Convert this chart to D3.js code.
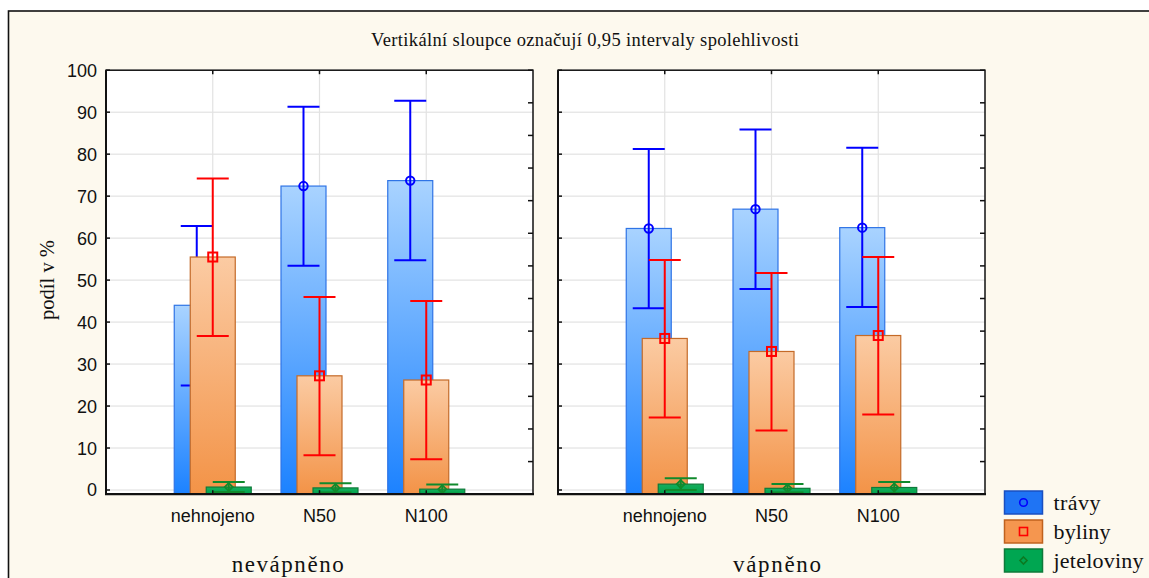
<!DOCTYPE html>
<html><head><meta charset="utf-8">
<script src="https://cdn.jsdelivr.net/npm/d3@7"></script>
<style>
html,body{margin:0;padding:0;background:#fff;}
svg{display:block;}
</style></head>
<body>
<script>
// ---- data ----
const groups = ["nevápněno", "vápněno"];
const categories = ["nehnojeno", "N50", "N100"];
const seriesNames = ["trávy", "byliny", "jeteloviny"];
const yTicks = [0, 10, 20, 30, 40, 50, 60, 70, 80, 90, 100];
const title = "Vertikální sloupce označují 0,95 intervaly spolehlivosti";
const yLabel = "podíl v %";
// order: nevápněno (nehnojeno, N50, N100), vápněno (nehnojeno, N50, N100)
const travyMean = [44.0, 72.4, 73.7, 62.3, 66.9, 62.5];
const travyLow  = [24.9, 53.4, 54.7, 43.3, 47.9, 43.6];
const travyHigh = [62.9, 91.3, 92.7, 81.2, 85.9, 81.5];
const bylinyMean = [55.5, 27.2, 26.2, 36.1, 33.0, 36.8];
const bylinyLow  = [36.7, 8.3, 7.3, 17.3, 14.2, 18.0];
const bylinyHigh = [74.2, 46.0, 45.0, 54.8, 51.7, 55.5];
const jetelMean = [0.7, 0.5, 0.2, 1.4, 0.4, 0.6];
const jetelLow  = [-0.5, -0.6, -0.9, 0.0, -0.6, -0.7];
const jetelHigh = [1.9, 1.6, 1.3, 2.8, 1.4, 1.9];

const seriesData = [
  {name: seriesNames[0], mean: travyMean, low: travyLow, high: travyHigh},
  {name: seriesNames[1], mean: bylinyMean, low: bylinyLow, high: bylinyHigh},
  {name: seriesNames[2], mean: jetelMean, low: jetelLow, high: jetelHigh}
];

// ---- styles ----
const styles = [
  {top: "#A9D3FF", bot: "#1C82FF", stroke: "#2F74E6", err: "#0000FF", legFill: "#1F74F4", legStroke: "#1A4FC0", marker: "circle"},
  {top: "#FBCBA3", bot: "#F39347", stroke: "#C46A28", err: "#FF0000", legFill: "#F5964F", legStroke: "#C0621E", marker: "square"},
  {top: "#14AE5C", bot: "#00A24C", stroke: "#0E7A3A", err: "#108A2C", legFill: "#00A651", legStroke: "#0E7A3A", marker: "diamond"}
];

const W = 1149, H = 578;
const svg = d3.select("body").append("svg").attr("width", W).attr("height", H);

const defs = svg.append("defs");
styles.forEach((s, i) => {
  const g = defs.append("linearGradient").attr("id", "g" + i).attr("x1", 0).attr("y1", 0).attr("x2", 0).attr("y2", 1);
  g.append("stop").attr("offset", "0%").attr("stop-color", s.top);
  g.append("stop").attr("offset", "100%").attr("stop-color", s.bot);
});

svg.append("rect").attr("x", 8.5).attr("y", 11).attr("width", W + 10).attr("height", H + 10)
  .attr("fill", "#FDF9EE").attr("stroke", "#111").attr("stroke-width", 1.6);

const serif = "'Liberation Serif', 'Times New Roman', serif";
const sans = "'Liberation Sans', Arial, sans-serif";

svg.append("text").attr("x", 371).attr("y", 46.3)
  .attr("font-family", serif).attr("font-size", 18.5).attr("fill", "#111")
  .attr("textLength", 428).attr("lengthAdjust", "spacing").text(title);

const y = d3.scaleLinear().domain([-1, 100]).range([494.2, 70.2]);
const panelW = 427;
const panelX = [106, 558];
const barW = 45;
const off = d3.scalePoint().domain(seriesNames).range([-16, 16]);
const rightTicks = d3.scaleLinear().domain([0, 13]).range([494.2, 70.2]);

svg.append("text").attr("transform", "translate(54,320) rotate(-90)")
  .attr("font-family", serif).attr("font-size", 22).attr("fill", "#111")
  .attr("textLength", 80).attr("lengthAdjust", "spacingAndGlyphs").text(yLabel);

svg.append("g").selectAll("text").data(yTicks).join("text")
  .attr("x", 97).attr("y", d => y(d)).attr("dy", "0.36em").attr("text-anchor", "end")
  .attr("font-family", sans).attr("font-size", 18).attr("fill", "#111").text(d => d);

const groupLabelX = [231.7, 733];
const groupLabelLen = [112, 88];

groups.forEach((grp, gi) => {
  const x0 = panelX[gi];
  const x = d3.scalePoint().domain(categories).range([x0, x0 + panelW]).padding(1);
  const p = svg.append("g");
  p.append("rect").attr("x", x0).attr("y", y(100)).attr("width", panelW).attr("height", y(-1) - y(100)).attr("fill", "#fff");
  p.append("g").selectAll("line").data(yTicks).join("line")
    .attr("x1", x0).attr("x2", x0 + panelW).attr("y1", d => y(d)).attr("y2", d => y(d))
    .attr("stroke", "#DCDCDC").attr("stroke-width", 1);
  p.append("g").selectAll("line").data(categories).join("line")
    .attr("x1", d => x(d)).attr("x2", d => x(d)).attr("y1", y(100)).attr("y2", y(-1))
    .attr("stroke", "#E2E2E2").attr("stroke-width", 1.2);

  seriesData.forEach((s, si) => {
    const st = styles[si];
    const idx = categories.map((c, ci) => gi * 3 + ci);
    p.append("g").selectAll("rect").data(idx).join("rect")
      .attr("x", (d, ci) => x(categories[ci]) + off(s.name) - barW / 2)
      .attr("y", d => y(s.mean[d]))
      .attr("width", barW)
      .attr("height", d => y(-1) - y(s.mean[d]))
      .attr("fill", `url(#g${si})`).attr("stroke", st.stroke).attr("stroke-width", 1.2);
    const eg = p.append("g").attr("stroke", st.err).attr("stroke-width", 2).attr("fill", "none");
    categories.forEach((c, ci) => {
      const d = gi * 3 + ci;
      const cx = x(c) + off(s.name);
      eg.append("line").attr("x1", cx).attr("x2", cx).attr("y1", y(s.low[d])).attr("y2", y(s.high[d]));
      eg.append("line").attr("x1", cx - 16).attr("x2", cx + 16).attr("y1", y(s.high[d])).attr("y2", y(s.high[d]));
      eg.append("line").attr("x1", cx - 16).attr("x2", cx + 16).attr("y1", y(s.low[d])).attr("y2", y(s.low[d]));
      const cy = y(s.mean[d]);
      if (st.marker === "circle") eg.append("circle").attr("cx", cx).attr("cy", cy).attr("r", 4.2);
      else if (st.marker === "square") eg.append("rect").attr("x", cx - 4.5).attr("y", cy - 4.5).attr("width", 9).attr("height", 9);
      else eg.append("path").attr("d", `M${cx},${cy - 4}L${cx + 4},${cy}L${cx},${cy + 4}L${cx - 4},${cy}Z`).attr("stroke-width", 1.8);
    });
  });

  const ax = p.append("g").attr("stroke", "#111");
  ax.append("rect").attr("x", x0).attr("y", y(100)).attr("width", panelW).attr("height", y(-1) - y(100))
    .attr("fill", "none").attr("stroke-width", 1.5);
  ax.append("line").attr("x1", x0 - 1).attr("x2", x0 + panelW + 1).attr("y1", y(-1)).attr("y2", y(-1)).attr("stroke-width", 2.2);
  ax.append("line").attr("x1", x0).attr("x2", x0).attr("y1", y(100)).attr("y2", y(-1)).attr("stroke-width", 2);
  ax.append("g").selectAll("line").data(yTicks).join("line")
    .attr("x1", x0).attr("x2", x0 + 4).attr("y1", d => y(d)).attr("y2", d => y(d)).attr("stroke-width", 1.5);
  ax.append("g").selectAll("line").data(d3.range(14)).join("line")
    .attr("x1", x0 + panelW - 5).attr("x2", x0 + panelW).attr("y1", d => rightTicks(d)).attr("y2", d => rightTicks(d)).attr("stroke-width", 1.5);
  ax.append("g").selectAll("line").data(categories).join("line")
    .attr("x1", d => x(d)).attr("x2", d => x(d)).attr("y1", y(100)).attr("y2", y(100) + 4).attr("stroke-width", 1.5);
  ax.append("g").selectAll("line").data(categories).join("line")
    .attr("x1", d => x(d)).attr("x2", d => x(d)).attr("y1", y(-1)).attr("y2", y(-1) - 4).attr("stroke-width", 1.5);

  p.append("g").selectAll("text").data(categories).join("text")
    .attr("x", d => x(d)).attr("y", 521.5).attr("text-anchor", "middle")
    .attr("font-family", sans).attr("font-size", 18).attr("fill", "#111").text(d => d);
  p.append("text").attr("x", groupLabelX[gi]).attr("y", 571.5)
    .attr("font-family", serif).attr("font-size", 23).attr("fill", "#111")
    .attr("textLength", groupLabelLen[gi]).attr("lengthAdjust", "spacing").text(grp);
});

// legend
const legLen = [47, 57, 90];
const lg = svg.append("g");
seriesNames.forEach((n, i) => {
  const st = styles[i];
  const by = 491 + i * 29;
  lg.append("rect").attr("x", 1004.5).attr("y", by).attr("width", 38).attr("height", 23)
    .attr("fill", st.legFill).attr("stroke", st.legStroke).attr("stroke-width", 1.5);
  const cx = 1023.5, cy = by + 11.5;
  const mg = lg.append("g").attr("fill", "none").attr("stroke", st.err).attr("stroke-width", 1.6);
  if (st.marker === "circle") mg.append("circle").attr("cx", cx).attr("cy", cy).attr("r", 3.8).attr("stroke", "#0000FF");
  else if (st.marker === "square") mg.append("rect").attr("x", cx - 4).attr("y", cy - 4).attr("width", 8).attr("height", 8);
  else mg.append("path").attr("d", `M${cx},${cy - 3.5}L${cx + 3.5},${cy}L${cx},${cy + 3.5}L${cx - 3.5},${cy}Z`).attr("stroke", "#0B7A22");
  lg.append("text").attr("x", 1053.5).attr("y", by + 18.5)
    .attr("font-family", serif).attr("font-size", 22).attr("fill", "#111")
    .attr("textLength", legLen[i]).attr("lengthAdjust", "spacing").text(n);
});
</script>
</body></html>
